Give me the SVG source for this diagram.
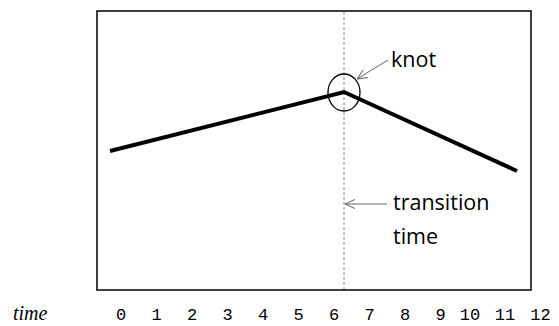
<svg xmlns="http://www.w3.org/2000/svg" width="559" height="326" viewBox="0 0 559 326">
<defs>
<marker id="arr" viewBox="0 0 10 10" refX="10" refY="5" markerWidth="10" markerHeight="10" markerUnits="userSpaceOnUse" orient="auto">
<path d="M0,0.5 L10,5 L0,9.5" fill="none" stroke="#666" stroke-width="1"/>
</marker>
</defs>
<style>
.lbl{font-family:"Open Sans","DejaVu Sans",sans-serif;font-size:21.5px;fill:#000}
.tick{font-family:"Liberation Mono","Courier New",monospace;font-size:17px;fill:#000;text-anchor:middle}
.ann{fill:none;stroke:#666;stroke-width:1}
</style>
<rect x="97" y="11" width="434" height="279" fill="#fff" stroke="#000" stroke-width="1.5"/>
<g id="transition-line">
<line x1="344" y1="12" x2="344" y2="289" stroke="#888" stroke-width="1" stroke-dasharray="3,2"/>
</g>
<g id="trend">
<polyline points="110,151 344,92 517,171" fill="none" stroke="#000" stroke-width="4" stroke-linejoin="miter"/>
</g>
<g id="knot-circle">
<ellipse cx="344" cy="92.5" rx="16" ry="18.5" fill="none" stroke="#000" stroke-width="1.3"/>
</g>
<g id="connectors">
<line class="ann" x1="388" y1="60" x2="357" y2="79" marker-end="url(#arr)"/>
<line class="ann" x1="387" y1="204" x2="345" y2="204" marker-end="url(#arr)"/>
</g>
<g id="knot-label"><text class="lbl" x="391" y="67">knot</text></g>
<g id="transition-label">
<text class="lbl" x="393" y="210">transition</text>
<text class="lbl" x="393" y="244">time</text>
</g>
<g id="axis">
<text x="13" y="320" font-family="'Liberation Serif','Times New Roman',serif" font-style="italic" font-size="20">time</text>
<text class="tick" x="121" y="320">0</text>
<text class="tick" x="156.5" y="320">1</text>
<text class="tick" x="192" y="320">2</text>
<text class="tick" x="227.5" y="320">3</text>
<text class="tick" x="263" y="320">4</text>
<text class="tick" x="298.5" y="320">5</text>
<text class="tick" x="334" y="320">6</text>
<text class="tick" x="369.5" y="320">7</text>
<text class="tick" x="405" y="320">8</text>
<text class="tick" x="440.5" y="320">9</text>
<text class="tick" x="470" y="320">10</text>
<text class="tick" x="505" y="320">11</text>
<text class="tick" x="540.5" y="320">12</text>
</g>
</svg>
